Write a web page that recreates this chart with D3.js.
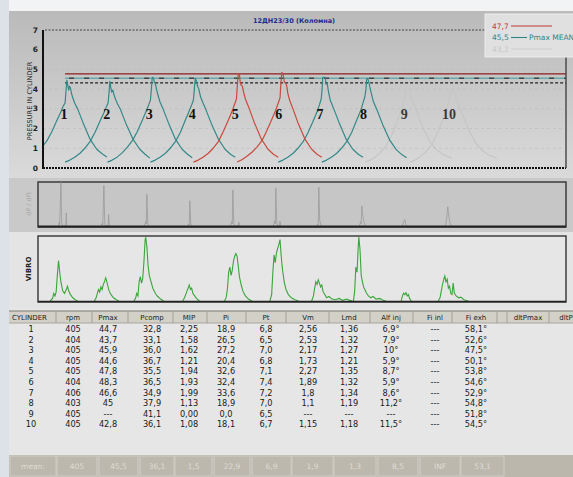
<!DOCTYPE html>
<html>
<head>
<meta charset="utf-8">
<script src="https://cdn.jsdelivr.net/npm/d3@7"></script>
<style>
  body { margin: 0; background: #dde2e8; }
  svg { display: block; }
  text { font-family: "DejaVu Sans", sans-serif; }
</style>
</head>
<body>
<div id="chart"></div>
<script>
// --- data ---
const yTicks = [0, 1, 2, 3, 4, 5, 6, 7];
const cylinders = ["1", "2", "3", "4", "5", "6", "7", "8", "9", "10"];
// which Pmax band each cylinder falls in (decides its colour)
const cylGroup = ["mean", "mean", "mean", "mean", "high", "high", "mean", "mean", "low", "low"];
// crank angle (deg) of each pressure peak
const peakAngle = [40, 112, 183, 255, 327, 400, 469, 542, 610, 685];

// pressure curves, [angle relative to peak, pressure MPa]
const pCyl1 = [[-75,0.3],[-67,0.4],[-59,0.55],[-50,0.75],[-42,1.05],[-33,1.4],[-25,1.85],[-17,2.4],[-10,2.85],[-6,3.15],[-3,3.3],[-1.5,3.9],[0,4.45],[1.5,4.2],[3,3.95],[4.5,4.15],[6,4.05],[8,3.75],[10,3.55],[13,3.3],[18,3.0],[27,2.3],[39,1.45],[50,0.95],[59,0.72],[67,0.56]];
const pCyl2 = [[-75,0.3],[-67,0.4],[-59,0.55],[-50,0.75],[-42,1.0],[-33,1.35],[-25,1.8],[-17,2.35],[-10,2.8],[-6,3.1],[-3,3.3],[-1.5,3.8],[0,4.4],[1.5,4.1],[3,3.85],[5,3.95],[7,3.7],[10,3.45],[13,3.25],[18,2.95],[27,2.25],[39,1.45],[50,0.95],[59,0.7],[67,0.5]];
const pCyl3 = [[-75,0.3],[-67,0.4],[-59,0.55],[-50,0.78],[-42,1.05],[-33,1.4],[-25,1.85],[-17,2.4],[-10,2.9],[-6,3.2],[-3,3.45],[-1.5,4.0],[0,4.6],[2,4.58],[3.5,4.35],[5,4.3],[7,4.0],[10,3.65],[13,3.35],[18,3.0],[27,2.3],[39,1.45],[50,0.95],[59,0.7],[67,0.52]];
const pCyl4 = [[-75,0.3],[-67,0.4],[-59,0.55],[-50,0.75],[-42,1.0],[-33,1.35],[-25,1.8],[-17,2.4],[-10,2.9],[-6,3.2],[-3,3.45],[-1.5,4.0],[0,4.55],[2,4.4],[4,4.15],[6,4.0],[9,3.6],[13,3.3],[18,2.95],[27,2.25],[39,1.45],[50,0.95],[59,0.7],[67,0.55]];
const pCyl5 = [[-75,0.3],[-67,0.4],[-59,0.55],[-50,0.75],[-42,1.0],[-33,1.35],[-25,1.85],[-17,2.4],[-10,2.9],[-6,3.25],[-3,3.5],[-1.5,4.2],[0,4.8],[2,4.75],[3.5,4.3],[5,4.2],[7,4.15],[9,3.85],[12,3.5],[18,3.05],[27,2.3],[39,1.45],[50,0.95],[59,0.7],[67,0.55]];
const pCyl6 = [[-75,0.3],[-67,0.42],[-59,0.58],[-50,0.8],[-42,1.05],[-33,1.4],[-25,1.9],[-17,2.45],[-10,2.95],[-6,3.3],[-3,3.55],[-1.5,4.3],[0,4.85],[2,4.8],[4,4.4],[6,4.3],[8,4.2],[10,3.8],[13,3.45],[18,3.05],[27,2.3],[39,1.45],[50,0.95],[59,0.7],[67,0.55]];
const pCyl7 = [[-75,0.3],[-67,0.4],[-59,0.55],[-50,0.75],[-42,1.0],[-33,1.35],[-25,1.8],[-17,2.35],[-10,2.85],[-6,3.2],[-3,3.5],[-1.5,4.0],[-0.5,4.6],[4,4.6],[5,4.25],[7,4.3],[9,3.9],[12,3.45],[18,3.0],[27,2.3],[39,1.45],[50,0.95],[59,0.7],[67,0.55]];
const pCyl8 = [[-75,0.3],[-67,0.4],[-59,0.55],[-50,0.75],[-42,1.0],[-33,1.35],[-25,1.8],[-17,2.4],[-10,2.9],[-6,3.3],[-3,3.6],[-1,4.0],[0,4.5],[2,4.55],[4,4.3],[7,3.9],[11,3.4],[18,2.9],[27,2.2],[39,1.4],[50,0.92],[59,0.68],[67,0.52]];
const pCyl9 = [[-70,0.3],[-62,0.4],[-54,0.55],[-45,0.78],[-36,1.1],[-27,1.6],[-18,2.25],[-10,2.9],[-5,3.5],[-2,3.9],[0,4.12],[2,4.05],[5,3.8],[10,3.35],[18,2.7],[27,2.0],[39,1.3],[50,0.9],[62,0.65],[75,0.5]];
const pCyl10 = [[-70,0.3],[-62,0.4],[-54,0.55],[-45,0.78],[-36,1.1],[-27,1.6],[-18,2.25],[-10,2.9],[-5,3.45],[-2,3.85],[0,4.08],[2,4.02],[5,3.75],[10,3.3],[18,2.7],[27,2.0],[39,1.3],[50,0.9],[62,0.65],[75,0.5]];
const pressureCurves = [pCyl1, pCyl2, pCyl3, pCyl4, pCyl5, pCyl6, pCyl7, pCyl8, pCyl9, pCyl10];

// Pmax bands (bar) shown as lines and in the legend
const pmaxLevels = [47.7, 45.5, 43.2];
const pmaxNames = ["high", "mean", "low"];

// dP/dFi trace pieces, [angle, relative height]
const dp1 = [[26,0],[27,0.08],[28,0.03],[30,1.0],[31.5,0.05],[33,0],[38,0],[39,0.3],[40,0]];
const dp2 = [[97,0],[99,0.06],[100,0.02],[102,0.93],[103.5,0.04],[105,0],[109,0],[110,0.26],[111,0]];
const dp3 = [[170,0],[172,0.1],[173,0.05],[174,0.73],[175.5,0.05],[177,0]];
const dp4 = [[242,0],[244,0.05],[245,0.02],[246,0.58],[247.5,0.05],[249,0]];
const dp5 = [[314,0],[316,0.1],[317,0.05],[318,0.83],[319.5,0.05],[321,0],[327,0],[328,0.09],[329,0]];
const dp6 = [[386,0],[388,0.12],[389,0.05],[390,0.87],[391.5,0.1],[393,0],[396,0],[397,0.11],[398,0]];
const dp7 = [[458,0],[460,0.04],[461,0.02],[462,0.89],[463.5,0.12],[466,0]];
const dp8 = [[530,0],[532,0.1],[533,0.05],[534,0.46],[536,0.2],[538,0.08],[540,0]];
const dp9 = [[602,0],[604,0.1],[606,0.15],[608,0.03],[610,0]];
const dp10 = [[674,0],[676,0.15],[678,0.44],[680,0.2],[682,0.05],[684,0]];
const dpTraces = [dp1, dp2, dp3, dp4, dp5, dp6, dp7, dp8, dp9, dp10];

// vibration bursts, [angle, relative amplitude]
const vib1 = [[12,0],[16,0.04],[18,0.12],[20,0.08],[22,0.14],[24,0.4],[26,0.63],[28,0.45],[30,0.3],[33,0.16],[36,0.12],[39,0.18],[41,0.23],[43,0.16],[46,0.1],[50,0.05],[54,0.02],[58,0]];
const vib2 = [[86,0],[89,0.05],[91,0.12],[93,0.18],[95,0.14],[97,0.22],[99,0.18],[101,0.26],[103,0.3],[105,0.36],[107,0.3],[109,0.22],[111,0.15],[114,0.1],[118,0.05],[123,0.02],[127,0]];
const vib3 = [[152,0],[155,0.04],[157,0.12],[159,0.08],[161,0.3],[163,0.38],[165,0.28],[167,0.35],[169,0.6],[171,0.95],[172,1.0],[174,0.85],[176,0.55],[178,0.4],[181,0.3],[184,0.2],[188,0.12],[192,0.07],[197,0.03],[202,0]];
const vib4 = [[234,0],[237,0.05],[239,0.1],[241,0.15],[243,0.2],[245,0.25],[247,0.18],[249,0.2],[251,0.12],[254,0.08],[257,0.04],[262,0]];
const vib5 = [[304,0],[307,0.06],[309,0.2],[311,0.45],[313,0.53],[315,0.4],[317,0.48],[319,0.62],[321,0.7],[323,0.74],[325,0.7],[327,0.55],[329,0.38],[332,0.25],[335,0.15],[339,0.08],[344,0.03],[350,0]];
const vib6 = [[380,0],[383,0.1],[385,0.45],[387,0.72],[389,0.6],[391,0.75],[393,0.82],[395,0.88],[397,0.96],[399,0.7],[401,0.5],[404,0.3],[407,0.18],[411,0.1],[416,0.05],[422,0.02],[428,0]];
const vib7 = [[450,0],[453,0.08],[455,0.2],[457,0.3],[459,0.26],[461,0.33],[463,0.28],[465,0.22],[467,0.25],[469,0.15],[472,0.1],[475,0.05],[479,0.07],[484,0.03],[490,0.02],[496,0.04],[502,0.01],[508,0.03],[514,0.01],[518,0]];
const vib8 = [[520,0],[522,0.15],[524,0.53],[526,0.45],[528,0.85],[529,1.0],[531,0.8],[533,0.4],[535,0.3],[537,0.22],[539,0.18],[542,0.12],[545,0.08],[549,0.05],[553,0.07],[558,0.03],[564,0.04],[570,0.01],[574,0]];
const vib9 = [[600,0],[602,0.08],[604,0.12],[606,0.1],[608,0.13],[610,0.08],[612,0.1],[614,0.04],[617,0]];
const vib10 = [[662,0],[665,0.05],[667,0.15],[669,0.25],[671,0.33],[673,0.39],[675,0.3],[677,0.34],[679,0.2],[681,0.23],[683,0.12],[685,0.1],[687,0.28],[689,0.12],[692,0.08],[696,0.05],[700,0.06],[705,0.02],[712,0]];
const vibTraces = [vib1, vib2, vib3, vib4, vib5, vib6, vib7, vib8, vib9, vib10];

// table
const columns = ["CYLINDER", "rpm", "Pmax", "Pcomp", "MIP", "Pi", "Pt", "Vm", "Lmd", "Alf inj", "Fi inl", "Fi exh", "dltPmax", "dltP"];
const tableRows = [
  ["1", "405", "44,7", "32,8", "2,25", "18,9", "6,8", "2,56", "1,36", "6,9°", "---", "58,1°"],
  ["2", "404", "43,7", "33,1", "1,58", "26,5", "6,5", "2,53", "1,32", "7,9°", "---", "52,6°"],
  ["3", "405", "45,9", "36,0", "1,62", "27,2", "7,0", "2,17", "1,27", "10°", "---", "47,5°"],
  ["4", "405", "44,6", "36,7", "1,21", "20,4", "6,8", "1,73", "1,21", "5,9°", "---", "50,1°"],
  ["5", "405", "47,8", "35,5", "1,94", "32,6", "7,1", "2,27", "1,35", "8,7°", "---", "53,8°"],
  ["6", "404", "48,3", "36,5", "1,93", "32,4", "7,4", "1,89", "1,32", "5,9°", "---", "54,6°"],
  ["7", "406", "46,6", "34,9", "1,99", "33,6", "7,2", "1,8", "1,34", "8,6°", "---", "52,9°"],
  ["8", "403", "45", "37,9", "1,13", "18,9", "7,0", "1,1", "1,19", "11,2°", "---", "54,8°"],
  ["9", "405", "---", "41,1", "0,00", "0,0", "6,5", "---", "---", "---", "---", "51,8°"],
  ["10", "405", "42,8", "36,1", "1,08", "18,1", "6,7", "1,15", "1,18", "11,5°", "---", "54,5°"]
];
const meanRow = ["mean:", "405", "45,5", "36,1", "1,5", "22,9", "6,9", "1,9", "1,3", "8,5", "INF", "53,1"];

// --- drawing ---
const W = 573, H = 477;
const svg = d3.select("#chart").append("svg").attr("width", W).attr("height", H);
const defs = svg.append("defs");

const grad = defs.append("linearGradient").attr("id", "topBg").attr("x1", 0).attr("x2", 0).attr("y1", 0).attr("y2", 1);
grad.append("stop").attr("offset", "0%").attr("stop-color", "#bababa");
grad.append("stop").attr("offset", "100%").attr("stop-color", "#dadada");

// backgrounds
svg.append("rect").attr("x", 0).attr("y", 0).attr("width", W).attr("height", H).attr("fill", "#dde2e8");
svg.append("rect").attr("x", 9).attr("y", 0).attr("width", W - 9).attr("height", 11).attr("fill", "#f2f3f5");
svg.append("rect").attr("x", 9).attr("y", 11).attr("width", W - 9).attr("height", 167).attr("fill", "url(#topBg)");
svg.append("rect").attr("x", 9).attr("y", 178).attr("width", W - 9).attr("height", 54).attr("fill", "#c9c9c9");
svg.append("rect").attr("x", 9).attr("y", 232).attr("width", W - 9).attr("height", 76).attr("fill", "#e4e4e4");
svg.append("rect").attr("x", 9).attr("y", 308).attr("width", W - 9).attr("height", 169).attr("fill", "#e6e6e6");

const x = d3.scaleLinear().domain([0, 876]).range([43, 566]);
const y = d3.scaleLinear().domain([0, 7]).range([168, 30]);
const groupColor = d3.scaleOrdinal().domain(["high", "mean", "low"]).range(["#c94a3c", "#348888", "#c6c6c6"]);
const levelColor = d3.scaleOrdinal().domain(["high", "mean", "low"]).range(["#8e1c1c", "#6aaaaa", "#222"]);

// grid
svg.append("g").selectAll("line").data(yTicks.filter(d => d > 0 && d < 7)).join("line")
  .attr("x1", x(0)).attr("x2", x(876)).attr("y1", d => y(d)).attr("y2", d => y(d))
  .attr("stroke", "#bdbdbd").attr("stroke-dasharray", "3,3").attr("stroke-width", 0.7);
svg.append("line").attr("x1", x(0) + 2).attr("x2", x(876)).attr("y1", y(7)).attr("y2", y(7))
  .attr("stroke", "#333").attr("stroke-dasharray", "2,1.5").attr("stroke-width", 0.9);

// Pmax level lines
const levelStart = 37;
pmaxLevels.forEach((v, i) => {
  const g = pmaxNames[i];
  const yy = y(v / 10);
  if (g === "mean") {
    svg.append("line").attr("x1", x(levelStart)).attr("x2", x(876)).attr("y1", yy).attr("y2", yy)
      .attr("stroke", levelColor(g)).attr("stroke-width", 1.6);
    svg.append("line").attr("x1", x(levelStart) + 4).attr("x2", x(876)).attr("y1", yy).attr("y2", yy)
      .attr("stroke", "#444").attr("stroke-width", 1.4).attr("stroke-dasharray", "5,10");
  } else if (g === "high") {
    svg.append("line").attr("x1", x(levelStart)).attr("x2", x(876)).attr("y1", yy).attr("y2", yy)
      .attr("stroke", levelColor(g)).attr("stroke-width", 1.2);
  } else {
    svg.append("line").attr("x1", x(levelStart)).attr("x2", x(876)).attr("y1", yy).attr("y2", yy)
      .attr("stroke", levelColor(g)).attr("stroke-width", 1.1).attr("stroke-dasharray", "3,2");
  }
});

// pressure curves
defs.append("clipPath").attr("id", "plotClip").append("rect")
  .attr("x", x(0)).attr("y", 20).attr("width", x(876) - x(0)).attr("height", 150);
const line = d3.line().x(d => x(d[0])).y(d => y(d[1]));
const order = [8, 9, 0, 1, 2, 3, 6, 7, 4, 5];
svg.append("g").attr("clip-path", "url(#plotClip)").selectAll("path").data(order).join("path")
  .attr("d", i => line(pressureCurves[i].map(p => [peakAngle[i] + p[0], p[1]])))
  .attr("fill", "none").attr("stroke", i => groupColor(cylGroup[i])).attr("stroke-width", 1.2)
  .attr("stroke-linejoin", "round");

// cylinder numbers
svg.append("g").selectAll("text").data(cylinders).join("text")
  .attr("x", (d, i) => x(peakAngle[i]) - 3).attr("y", y(2.75) + 5)
  .attr("text-anchor", "middle")
  .style("font-family", "'Liberation Serif', serif").style("font-weight", "bold").style("font-size", "14px")
  .attr("fill", (d, i) => cylGroup[i] === "low" ? "#3a3a3a" : "#111")
  .text(d => d);

// axes frame
svg.append("line").attr("x1", x(0)).attr("x2", x(876)).attr("y1", y(0)).attr("y2", y(0))
  .attr("stroke", "#111").attr("stroke-width", 2.2).attr("stroke-dasharray", "2,1");
svg.append("line").attr("x1", x(876)).attr("x2", x(876)).attr("y1", 57).attr("y2", y(0))
  .attr("stroke", "#444").attr("stroke-width", 1.4);
svg.append("line").attr("x1", x(0)).attr("x2", x(0)).attr("y1", y(7)).attr("y2", y(0) + 1)
  .attr("stroke", "#111").attr("stroke-width", 2);

svg.append("g").selectAll("text").data(yTicks).join("text")
  .attr("x", x(0) - 5).attr("y", d => y(d) + 2.5).attr("text-anchor", "end")
  .style("font-size", "7.5px").style("font-weight", "bold").attr("fill", "#222").text(d => d);
svg.append("text").attr("transform", `translate(32,${(y(0) + y(7)) / 2 + 2}) rotate(-90)`)
  .attr("text-anchor", "middle").style("font-size", "6.6px").attr("fill", "#222")
  .text("PRESSURE IN CYLINDER");

// title
svg.append("text").attr("x", 294).attr("y", 23).attr("text-anchor", "middle")
  .style("font-size", "6.5px").style("font-weight", "bold").attr("fill", "#1e2a8e")
  .text("12ДН23/30 (Коломна)");

// legend
const leg = svg.append("g");
leg.append("rect").attr("x", 485).attr("y", 14).attr("width", 92).attr("height", 43)
  .attr("fill", "#e0e0e0").attr("stroke", "#ececec");
pmaxLevels.forEach((v, i) => {
  const g = pmaxNames[i];
  const c = g === "high" ? "#c03838" : g === "mean" ? "#2f8686" : "#c8c8c8";
  const yy = 26 + i * 11.5;
  leg.append("text").attr("x", 492).attr("y", yy + 2.5).style("font-size", "7.5px").attr("fill", c)
    .text(d3.format(".1f")(v).replace(".", ","));
  leg.append("line").attr("x1", 511).attr("x2", g === "mean" ? 527 : 552).attr("y1", yy).attr("y2", yy)
    .attr("stroke", c).attr("stroke-width", g === "low" ? 0.8 : 1.1);
  if (g === "mean") leg.append("text").attr("x", 529).attr("y", yy + 2.5).style("font-size", "7.5px")
    .attr("fill", c).text("Pmax MEAN");
});

// dP/dFi panel
const yd = d3.scaleLinear().domain([0, 1]).range([226, 182.5]);
svg.append("rect").attr("x", 38).attr("y", 182).attr("width", 528).attr("height", 45)
  .attr("fill", "#c6c6c6").attr("stroke", "#333").attr("stroke-width", 1.4);
const dline = d3.line().x(d => x(d[0])).y(d => yd(d[1]));
svg.append("g").selectAll("path").data(dpTraces).join("path")
  .attr("d", dline).attr("fill", "none").attr("stroke", "#9a9a9a").attr("stroke-width", 0.8);
svg.append("line").attr("x1", 38).attr("x2", 566).attr("y1", 226.5).attr("y2", 226.5)
  .attr("stroke", "#222").attr("stroke-width", 1.8);
svg.append("text").attr("transform", "translate(31,204) rotate(-90)").attr("text-anchor", "middle")
  .style("font-size", "6.5px").attr("fill", "#a6a6a6").text("dP / dFi");

// vibro panel
const yv = d3.scaleLinear().domain([0, 1]).range([301, 237]);
svg.append("rect").attr("x", 38).attr("y", 236).attr("width", 528).attr("height", 66)
  .attr("fill", "#e6e6e6").attr("stroke", "#333").attr("stroke-width", 1.4);
const vline = d3.line().x(d => x(d[0])).y(d => yv(d[1]));
svg.append("g").selectAll("path").data(vibTraces).join("path")
  .attr("d", vline).attr("fill", "none").attr("stroke", "#3aa53a").attr("stroke-width", 1.1);
svg.append("line").attr("x1", 38).attr("x2", 566).attr("y1", 301.5).attr("y2", 301.5)
  .attr("stroke", "#222").attr("stroke-width", 1.6);
svg.append("text").attr("transform", "translate(31,269) rotate(-90)").attr("text-anchor", "middle")
  .style("font-size", "7px").style("font-weight", "bold").attr("fill", "#222").text("VIBRO");

// table
const colX = d3.scaleOrdinal().domain(columns)
  .range([31, 73, 108, 152, 189, 226, 266, 308, 349, 391, 435, 476, 528, 566]);
const sepX = [56, 92, 128, 173, 207, 246, 286, 329, 370, 413, 452, 497, 507, 549];
svg.append("rect").attr("x", 9).attr("y", 311).attr("width", W - 9).attr("height", 12)
  .attr("fill", "#d3d0c7");
svg.append("line").attr("x1", 9).attr("x2", W).attr("y1", 311).attr("y2", 311).attr("stroke", "#7d7a72");
svg.append("line").attr("x1", 9).attr("x2", W).attr("y1", 323).attr("y2", 323).attr("stroke", "#a9a69d");
svg.append("g").selectAll("line").data(sepX).join("line")
  .attr("x1", d => d).attr("x2", d => d).attr("y1", 311).attr("y2", 323)
  .attr("stroke", "#a4a197");
svg.append("g").selectAll("text").data(columns).join("text")
  .attr("x", (d, i) => i === 0 ? 12 : colX(d)).attr("y", 320)
  .attr("text-anchor", (d, i) => i === 0 ? "start" : "middle")
  .style("font-size", "7px").attr("fill", "#222").text(d => d);

const rowG = svg.append("g").selectAll("g").data(tableRows).join("g")
  .attr("transform", (d, i) => `translate(0,${332 + i * 10.6})`);
rowG.selectAll("text").data(d => d).join("text")
  .attr("x", (d, i) => colX(columns[i])).attr("y", 0).attr("text-anchor", "middle")
  .style("font-size", "8.2px").attr("fill", "#1a1a1a").text(d => d);

// mean row
const meanCells = [[10, 56], [57, 97], [99, 138], [140, 174], [175, 212], [214, 250], [252, 291], [292, 333], [334, 376], [378, 418], [420, 460], [461, 504]];
svg.append("rect").attr("x", 9).attr("y", 455).attr("width", W - 9).attr("height", 22).attr("fill", "#bbb7ac");
svg.append("g").selectAll("rect").data(meanCells).join("rect")
  .attr("x", d => d[0]).attr("y", 456).attr("width", d => d[1] - d[0]).attr("height", 20)
  .attr("fill", "#bcb8ad").attr("stroke", "#d0cdc5").attr("stroke-width", 1);
svg.append("g").selectAll("text").data(meanRow).join("text")
  .attr("x", (d, i) => (meanCells[i][0] + meanCells[i][1]) / 2).attr("y", 469)
  .attr("text-anchor", "middle").style("font-size", "7.5px").attr("fill", "#dedbd3").text(d => d);
</script>
</body>
</html>
